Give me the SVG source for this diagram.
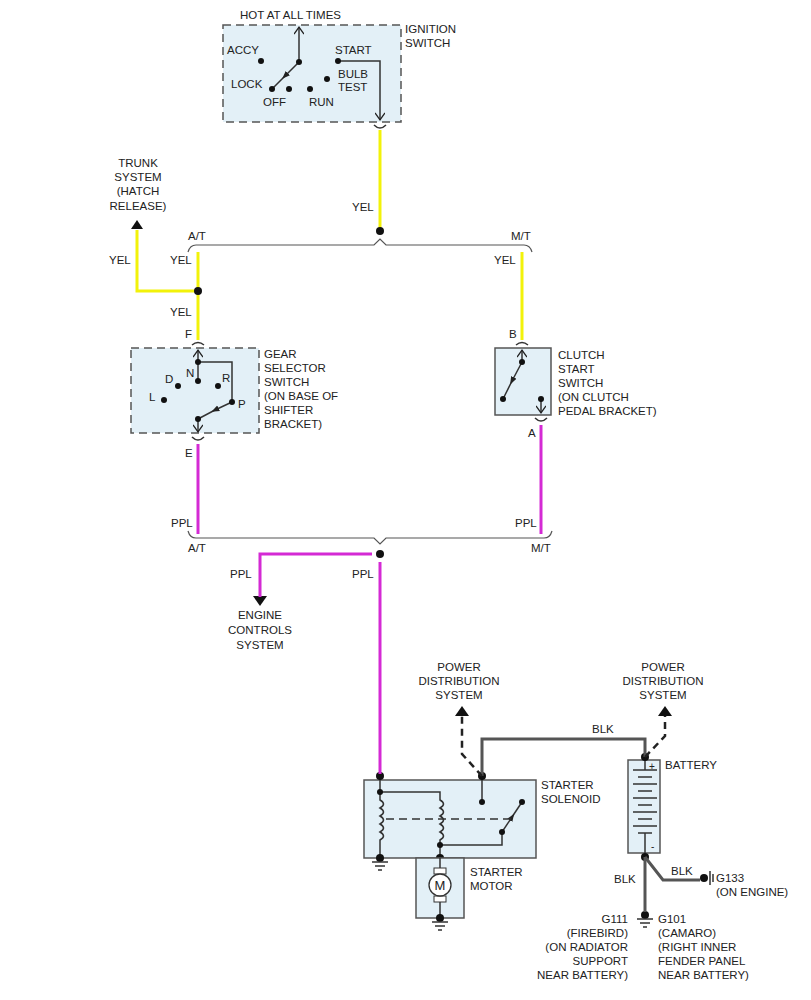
<svg xmlns="http://www.w3.org/2000/svg" width="811" height="1000" viewBox="0 0 811 1000">
<style>
text{font-family:"Liberation Sans",Arial,sans-serif;font-size:11.5px;fill:#222}
.c{text-anchor:middle}.r{text-anchor:end}
.box{fill:#e3f0f7;stroke:#555;stroke-width:1.5}
.dash{stroke-dasharray:8 5}
.ln{fill:none;stroke:#333;stroke-width:1.5}
.yel{fill:none;stroke:#f2f20a;stroke-width:3}
.ppl{fill:none;stroke:#d42ad4;stroke-width:3}
.blk{fill:none;stroke:#555;stroke-width:3}
.bus{fill:none;stroke:#555;stroke-width:1.2}
.dl{fill:none;stroke:#222;stroke-width:2.5;stroke-dasharray:7 5}
</style>
<defs>
<marker id="oa" markerWidth="10" markerHeight="10" refX="8" refY="5" orient="auto" markerUnits="userSpaceOnUse" viewBox="0 0 10 10"><path d="M1,0 L8,5 L1,10" fill="none" stroke="#222" stroke-width="1.3"/></marker>
<marker id="ma" markerWidth="8" markerHeight="8" refX="4" refY="4" orient="auto" markerUnits="userSpaceOnUse" viewBox="0 0 8 8"><path d="M0,1 L8,4 L0,7z" fill="#222"/></marker>
</defs>

<g id="ignition-switch">
<rect class="box dash" x="223" y="25" width="178" height="97"/>
<text x="240" y="19">HOT AT ALL TIMES</text>
<line class="ln" x1="299" y1="62" x2="299" y2="27" marker-end="url(#oa)"/>
<path class="ln" d="M299,62 L285,76 L272,89" marker-mid="url(#ma)"/>
<path class="ln" d="M338,61 H380 V120" marker-end="url(#oa)"/>
<g fill="#111"><circle cx="299" cy="62" r="3"/><circle cx="272" cy="89" r="3"/><circle cx="261" cy="61" r="3"/><circle cx="289" cy="89" r="3"/><circle cx="310" cy="89" r="3"/><circle cx="327" cy="79" r="3"/><circle cx="338" cy="61" r="3"/></g>
<text x="227" y="54">ACCY</text><text x="335" y="54">START</text><text x="231" y="88">LOCK</text>
<text x="338" y="78">BULB</text><text x="338" y="91">TEST</text><text x="263" y="106">OFF</text><text x="309" y="106">RUN</text>
<text x="405" y="33">IGNITION</text><text x="405" y="47">SWITCH</text>
<path class="ln" d="M374,125 Q380,131 386,125"/>
</g>

<g id="trunk-system">
<text class="c" x="138" y="167">TRUNK</text><text class="c" x="138" y="181">SYSTEM</text><text class="c" x="138" y="195">(HATCH</text><text class="c" x="138" y="210">RELEASE)</text>
<path d="M131,229 L137,220 L143,229z" fill="#111"/>
</g>

<g id="gear-selector-switch">
<rect class="box dash" x="131" y="348" width="128" height="85"/>
<path class="ln" d="M192,345 Q198,340 204,345"/>
<line class="ln" x1="198" y1="381" x2="198" y2="350" marker-end="url(#oa)"/>
<path class="ln" d="M198,362 H232 V402"/>
<path class="ln" d="M232,402 L215,410 L198,419" marker-mid="url(#ma)"/>
<line class="ln" x1="198" y1="419" x2="198" y2="432" marker-end="url(#oa)"/>
<path class="ln" d="M192,437 Q198,443 204,437"/>
<g fill="#111"><circle cx="198" cy="362" r="3"/><circle cx="198" cy="381" r="3"/><circle cx="178" cy="386" r="3"/><circle cx="218" cy="386" r="3"/><circle cx="164" cy="400" r="3"/><circle cx="232" cy="402" r="3"/><circle cx="198" cy="419" r="3"/></g>
<text x="186" y="377">N</text><text x="165" y="383">D</text><text x="222" y="382">R</text><text x="149" y="401">L</text><text x="238" y="408">P</text>
<text x="185" y="338">F</text><text x="185" y="457">E</text>
<text x="264" y="358">GEAR</text><text x="264" y="372">SELECTOR</text><text x="264" y="386">SWITCH</text><text x="264" y="400">(ON BASE OF</text><text x="264" y="414">SHIFTER</text><text x="264" y="428">BRACKET)</text>
</g>

<g id="clutch-start-switch">
<rect class="box" x="495" y="348" width="56" height="67"/>
<path class="ln" d="M516,345 Q522,340 528,345"/>
<line class="ln" x1="522" y1="362" x2="522" y2="350" marker-end="url(#oa)"/>
<path class="ln" d="M522,362 L512,381 L503,399" marker-mid="url(#ma)"/>
<line class="ln" x1="541" y1="399" x2="541" y2="413" marker-end="url(#oa)"/>
<path class="ln" d="M535,418 Q541,424 547,418"/>
<g fill="#111"><circle cx="522" cy="362" r="3"/><circle cx="503" cy="399" r="3"/><circle cx="541" cy="399" r="3"/></g>
<text x="509" y="338">B</text><text x="528" y="437">A</text>
<text x="558" y="359">CLUTCH</text><text x="558" y="373">START</text><text x="558" y="387">SWITCH</text><text x="558" y="401">(ON CLUTCH</text><text x="558" y="415">PEDAL BRACKET)</text>
</g>

<g id="engine-controls">
<text class="c" x="260" y="619">ENGINE</text><text class="c" x="260" y="634">CONTROLS</text><text class="c" x="260" y="649">SYSTEM</text>
<path d="M253,596 L260,606 L267,596z" fill="#111"/>
</g>

<g id="starter-solenoid">
<rect class="box" x="364" y="780" width="172" height="78"/>
<path class="ln" d="M380,776 V800 q7,4 0,8 q7,4 0,8 q7,4 0,8 q7,4 0,8 q7,4 0,8 V858"/>
<path class="ln" d="M380,792 H440 V800 q7,4 0,8 q7,4 0,8 q7,4 0,8 q7,4 0,8 q7,4 0,8 V858"/>
<path class="ln" d="M440,845 H502 V832"/>
<path class="ln" d="M502,832 L512,817 L522,802" marker-mid="url(#ma)"/>
<line class="ln" x1="482" y1="776" x2="482" y2="802"/>
<line class="ln" x1="386" y1="819" x2="512" y2="819" stroke-dasharray="8 5"/>
<g fill="#111"><circle cx="380" cy="776" r="4"/><circle cx="380" cy="792" r="3"/><circle cx="482" cy="776" r="4"/><circle cx="482" cy="802" r="3"/><circle cx="522" cy="802" r="3"/><circle cx="502" cy="832" r="3"/><circle cx="440" cy="845" r="3"/><circle cx="440" cy="858" r="4"/><circle cx="380" cy="858" r="4"/></g>
<path class="ln" d="M372,862 H388 M375,866 H385 M378,870 H382"/>
<text x="541" y="789">STARTER</text><text x="541" y="803">SOLENOID</text>
</g>

<g id="starter-motor">
<rect class="box" x="416" y="858" width="48" height="60"/>
<line class="ln" x1="440" y1="858" x2="440" y2="918"/>
<rect x="434" y="868" width="12" height="6" fill="#fff" stroke="#333"/>
<rect x="434" y="896" width="12" height="6" fill="#fff" stroke="#333"/>
<circle cx="440" cy="885" r="11" fill="#fff" stroke="#333" stroke-width="1.3"/>
<text class="c" x="440" y="890" style="font-size:13px">M</text>
<circle cx="440" cy="918" r="4" fill="#111"/>
<path class="ln" d="M432,922 H448 M435,926 H445 M438,930 H442"/>
<text x="470" y="876">STARTER</text><text x="470" y="890">MOTOR</text>
</g>

<g id="power-distribution-1">
<text class="c" x="459" y="671">POWER</text><text class="c" x="459" y="685">DISTRIBUTION</text><text class="c" x="459" y="699">SYSTEM</text>
<path d="M455,716 L462,706 L469,716z" fill="#111"/>
</g>
<g id="power-distribution-2">
<text class="c" x="663" y="671">POWER</text><text class="c" x="663" y="685">DISTRIBUTION</text><text class="c" x="663" y="699">SYSTEM</text>
<path d="M658,716 L665,706 L672,716z" fill="#111"/>
</g>

<g id="battery">
<rect class="box" x="628" y="760" width="32" height="93"/>
<path class="ln" d="M645,760 V770 M633,770 H657 M638,777 H652 M633,784 H657 M638,791 H652 M633,798 H657 M638,805 H652 M633,812 H657 M638,819 H652 M633,826 H657 M638,833 H652 M645,833 V853" stroke-width="1.3"/>
<text x="649" y="770" style="font-size:10px">+</text><text x="651" y="850" style="font-size:10px">-</text>
<g fill="#111"><circle cx="645" cy="757" r="4"/><circle cx="645" cy="857" r="4"/></g>
<text x="665" y="769">BATTERY</text>
</g>

<g id="ground-g133">
<circle cx="704" cy="878" r="4" fill="#111"/>
<path class="ln" d="M710,871 V885 M713,874 V882"/>
<text x="716" y="882">G133</text><text x="716" y="896">(ON ENGINE)</text>
</g>

<g id="ground-g101">
<circle cx="645" cy="915" r="4" fill="#111"/>
<path class="ln" d="M637,919 H653 M640,923 H650 M643,927 H647"/>
<text class="r" x="628" y="923">G111</text><text class="r" x="628" y="937">(FIREBIRD)</text><text class="r" x="628" y="951">(ON RADIATOR</text><text class="r" x="628" y="965">SUPPORT</text><text class="r" x="628" y="979">NEAR BATTERY)</text>
<text x="658" y="923">G101</text><text x="658" y="937">(CAMARO)</text><text x="658" y="951">(RIGHT INNER</text><text x="658" y="965">FENDER PANEL</text><text x="658" y="979">NEAR BATTERY)</text>
</g>

<g id="connectors">
<path class="yel" d="M380,130 V229"/>
<circle cx="380" cy="231" r="4" fill="#111"/>
<text x="352" y="211">YEL</text>
<path class="bus" d="M188,252 Q190,245 196,245 H374 L380,239 L386,245 H524 Q530,245 532,252"/>
<text x="188" y="240">A/T</text><text x="511" y="240">M/T</text>
<path class="yel" d="M198,252 V340"/>
<path class="yel" d="M198,291 H137 V230"/>
<circle cx="198" cy="291" r="4" fill="#111"/>
<text x="109" y="264">YEL</text><text x="170" y="264">YEL</text><text x="170" y="316">YEL</text>
<path class="yel" d="M522,252 V340"/>
<text x="494" y="264">YEL</text>
<path class="ppl" d="M198,444 V534"/>
<path class="ppl" d="M541,425 V534"/>
<text x="171" y="527">PPL</text><text x="515" y="527">PPL</text>
<path class="bus" d="M188,531 Q190,538 196,538 H374 L380,544 L386,538 H544 Q550,538 552,531"/>
<text x="188" y="552">A/T</text><text x="531" y="552">M/T</text>
<circle cx="380" cy="554" r="4" fill="#111"/>
<path class="ppl" d="M372,554 H260 V597"/>
<path class="ppl" d="M380,562 V774"/>
<text x="230" y="578">PPL</text><text x="352" y="578">PPL</text>
<path class="blk" d="M482,776 V739 H645 V757"/>
<text x="592" y="733">BLK</text>
<path class="dl" d="M482,776 L462,754 V716"/>
<path class="dl" d="M645,757 L665,736 V716"/>
<path class="blk" d="M645,857 V912"/>
<path class="blk" d="M645,857 L663,880 H700"/>
<text x="614" y="883">BLK</text><text x="671" y="875">BLK</text>
</g>
</svg>
